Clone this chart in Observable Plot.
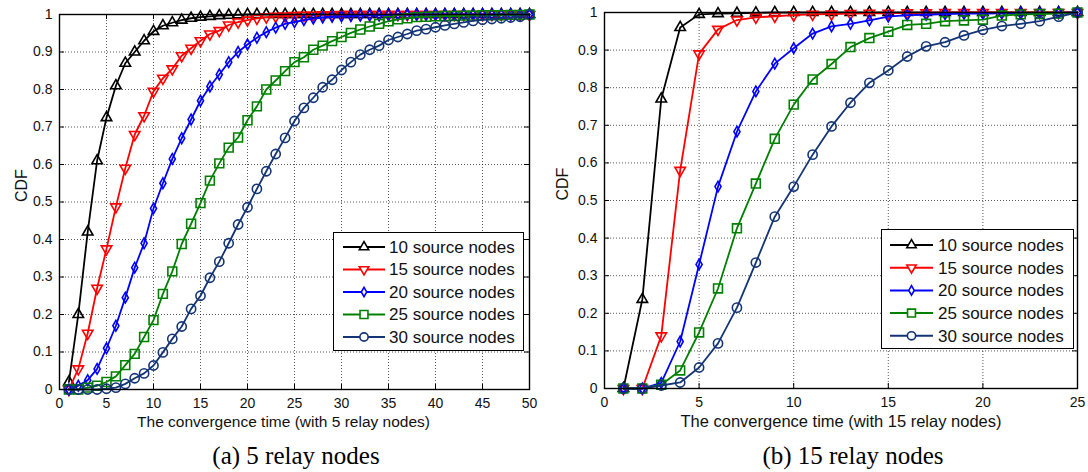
<!DOCTYPE html>
<html>
<head>
<meta charset="utf-8">
<script src="https://cdn.jsdelivr.net/npm/d3@7"></script>
<script src="https://cdn.jsdelivr.net/npm/@observablehq/plot@0.6"></script>
<style>
  body { margin: 0; background: #fff; }
  #wrap { position: relative; width: 1088px; height: 472px; overflow: hidden; font-family: "Liberation Sans", Arial, sans-serif; }
  .panel { position: absolute; top: 0; }
  .caption { position: absolute; font-family: "Liberation Serif", "Times New Roman", serif; font-size: 25px; color: #000; white-space: nowrap; transform: translateX(-50%); }
  .legend { position: absolute; background: #fff; border: 1.5px solid #000; box-sizing: border-box; }
</style>
</head>
<body>
<div id="wrap">
  <div id="pa" class="panel" style="left:0px"></div>
  <div id="pb" class="panel" style="left:544px"></div>
  <div class="caption" style="left:296px; top:442px">(a) 5 relay nodes</div>
  <div class="caption" style="left:853px; top:442px">(b) 15 relay nodes</div>
  <div id="lega" class="legend" style="left:333px; top:232px; width:191px; height:119px"></div>
  <div id="legb" class="legend" style="left:881px; top:229px; width:193px; height:120px"></div>
</div>
<script>
// ---------------- data ----------------
const seriesLabels = ["10 source nodes", "15 source nodes", "20 source nodes", "25 source nodes", "30 source nodes"];
const seriesColors = ["#000000", "#ff0000", "#0000ff", "#008000", "#143575"];

const xTicksA = [0, 5, 10, 15, 20, 25, 30, 35, 40, 45, 50];
const xTicksB = [0, 5, 10, 15, 20, 25];
const yTicks = [0, 0.1, 0.2, 0.3, 0.4, 0.5, 0.6, 0.7, 0.8, 0.9, 1];

// panel (a): 5 relay nodes
const timeA = [1,2,3,4,5,6,7,8,9,10,11,12,13,14,15,16,17,18,19,20,21,22,23,24,25,26,27,28,29,30,31,32,33,34,35,36,37,38,39,40,41,42,43,44,45,46,47,48,49,50];
const a10 = [0.02,0.20,0.42,0.61,0.725,0.81,0.87,0.90,0.93,0.955,0.97,0.978,0.985,0.99,0.993,0.995,0.997,0.998,0.999,1,1,1,1,1,1,1,1,1,1,1,1,1,1,1,1,1,1,1,1,1,1,1,1,1,1,1,1,1,1,1];
const a15 = [0.0,0.055,0.15,0.27,0.375,0.487,0.59,0.68,0.73,0.795,0.83,0.855,0.89,0.91,0.93,0.948,0.957,0.972,0.98,0.985,0.99,0.993,0.995,0.996,0.997,0.998,0.998,0.999,0.999,1,1,1,1,1,1,1,1,1,1,1,1,1,1,1,1,1,1,1,1,1];
const a20 = [0.0,0.01,0.025,0.055,0.11,0.17,0.245,0.325,0.39,0.483,0.55,0.615,0.67,0.72,0.77,0.808,0.84,0.873,0.90,0.92,0.938,0.953,0.965,0.975,0.98,0.985,0.989,0.992,0.994,0.995,0.996,0.997,0.998,0.998,0.999,1,1,1,1,1,1,1,1,1,1,1,1,1,1,1];
const a25 = [0,0,0.005,0.01,0.02,0.035,0.065,0.095,0.14,0.185,0.255,0.315,0.388,0.442,0.497,0.557,0.603,0.645,0.672,0.718,0.755,0.80,0.824,0.849,0.873,0.886,0.906,0.917,0.929,0.94,0.951,0.96,0.968,0.975,0.982,0.987,0.99,0.993,0.994,0.995,0.996,0.996,0.997,0.997,0.998,0.998,0.998,0.999,0.999,1];
const a30 = [0,0,0,0,0.002,0.005,0.015,0.03,0.043,0.064,0.099,0.135,0.168,0.215,0.25,0.298,0.341,0.39,0.44,0.486,0.535,0.582,0.628,0.671,0.716,0.751,0.778,0.806,0.826,0.852,0.873,0.893,0.906,0.917,0.932,0.94,0.948,0.957,0.961,0.966,0.971,0.975,0.979,0.983,0.986,0.988,0.99,0.992,0.994,1.0];

// panel (b): 15 relay nodes
const timeB = [1,2,3,4,5,6,7,8,9,10,11,12,13,14,15,16,17,18,19,20,21,22,23,24,25];
const b10 = [0,0.237,0.77,0.96,0.995,0.997,0.998,0.999,1,1,1,1,1,1,1,1,1,1,1,1,1,1,1,1,1];
const b15 = [0,0.0,0.14,0.58,0.89,0.955,0.98,0.987,0.99,0.993,0.995,0.996,0.997,0.998,0.998,0.999,0.999,1,1,1,1,1,1,1,1];
const b20 = [0,0,0.015,0.125,0.33,0.537,0.683,0.79,0.864,0.905,0.944,0.963,0.97,0.979,0.989,0.993,0.994,0.996,0.997,0.997,0.998,0.998,0.999,0.999,1];
const b25 = [0,0,0.01,0.048,0.149,0.266,0.426,0.545,0.664,0.755,0.822,0.863,0.908,0.932,0.949,0.967,0.97,0.977,0.979,0.981,0.992,0.995,0.996,0.997,1];
const b30 = [0,0,0.008,0.016,0.056,0.12,0.215,0.335,0.457,0.537,0.622,0.697,0.76,0.813,0.846,0.883,0.91,0.921,0.939,0.954,0.964,0.97,0.977,0.989,1];

// ---------------- symbols ----------------
const triDown = {
  draw(ctx, size) {
    const y = Math.sqrt(size / (Math.sqrt(3) * 3));
    ctx.moveTo(0, 2 * y);
    ctx.lineTo(-Math.sqrt(3) * y, -y);
    ctx.lineTo(Math.sqrt(3) * y, -y);
    ctx.closePath();
  }
};
const triUp = {
  draw(ctx, size) {
    const y = Math.sqrt(size / (Math.sqrt(3) * 3));
    ctx.moveTo(0, -2 * y);
    ctx.lineTo(-Math.sqrt(3) * y, y);
    ctx.lineTo(Math.sqrt(3) * y, y);
    ctx.closePath();
  }
};
const symbols = [triUp, triDown, d3.symbolDiamond, d3.symbolSquare, d3.symbolCircle];
const radii = [3.9, 3.9, 3.2, 5.0, 4.6];

function build(time, series, xTicks, opts) {
  const W = 544, H = 435;
  const plotW = W - opts.ml - opts.mr, plotH = H - opts.mt - opts.mb;
  const marks = [];
  // grid
  marks.push(Plot.ruleX(xTicks.slice(1, -1), {stroke: "#000", strokeOpacity: 0.65, strokeDasharray: "1,2", strokeWidth: 1}));
  marks.push(Plot.ruleY(yTicks.slice(1, -1), {stroke: "#000", strokeOpacity: 0.65, strokeDasharray: "1,2", strokeWidth: 1}));
  // inward ticks
  marks.push(Plot.ruleX(xTicks, {stroke: "#000", insetTop: plotH - 5}));
  marks.push(Plot.ruleX(xTicks, {stroke: "#000", insetBottom: plotH - 5}));
  marks.push(Plot.ruleY(yTicks, {stroke: "#000", insetRight: plotW - 5}));
  marks.push(Plot.ruleY(yTicks, {stroke: "#000", insetLeft: plotW - 5}));
  // series
  series.forEach((vals, i) => {
    const data = time.map((t, j) => ({t, v: vals[j]}));
    marks.push(Plot.line(data, {x: "t", y: "v", stroke: seriesColors[i], strokeWidth: 1.8}));
    marks.push(Plot.dot(data, {x: "t", y: "v", stroke: seriesColors[i], fill: "none", strokeWidth: 1.6, symbol: symbols[i], r: radii[i]}));
  });
  marks.push(Plot.frame({stroke: "#000", strokeWidth: 1.4}));
  // axes
  marks.push(Plot.axisX(xTicks, {tickSize: 0, tickPadding: 9, fontSize: 14, label: null}));
  marks.push(Plot.axisY(yTicks, {tickSize: 0, tickPadding: 7, fontSize: 14, label: null, tickFormat: d => String(+d.toFixed(1))}));
  marks.push(Plot.text([opts.xlabel], {frameAnchor: "bottom", dy: opts.xlabDy, dx: opts.xlabDx, fontSize: opts.xlabSize, text: d => d}));
  marks.push(Plot.text(["CDF"], {frameAnchor: "left", dx: opts.ylabDx, rotate: -90, fontSize: 16, text: d => d}));
  return Plot.plot({
    width: W, height: H,
    marginLeft: opts.ml, marginRight: opts.mr, marginTop: opts.mt, marginBottom: opts.mb,
    style: {fontFamily: "'Liberation Sans', Arial, sans-serif", fontSize: "14px", color: "#111", background: "#fff", overflow: "visible"},
    x: {domain: [0, xTicks[xTicks.length - 1]]},
    y: {domain: [0, 1]},
    marks
  });
}

document.getElementById("pa").appendChild(build(timeA, [a10, a15, a20, a25, a30], xTicksA,
  {ml: 59, mr: 15, mt: 14, mb: 46, xlabel: "The convergence time (with 5 relay nodes)", xlabDy: 37, xlabDx: -11, xlabSize: 15.5, ylabDx: -38}));
document.getElementById("pb").appendChild(build(timeB, [b10, b15, b20, b25, b30], xTicksB,
  {ml: 60, mr: 11, mt: 12, mb: 47, xlabel: "The convergence time (with 15 relay nodes)", xlabDy: 38, xlabDx: 0, xlabSize: 16.5, ylabDx: -42}));

// ---------------- legends ----------------
function legend(el, w, h, rowTop, rowGap, lineX0, lineX1, textX) {
  const svg = d3.select(el).append("svg").attr("width", w).attr("height", h).style("display", "block");
  seriesLabels.forEach((lab, i) => {
    const y = rowTop + i * rowGap;
    svg.append("line").attr("x1", lineX0).attr("x2", lineX1).attr("y1", y).attr("y2", y)
      .attr("stroke", seriesColors[i]).attr("stroke-width", 2);
    svg.append("path").attr("d", d3.symbol(symbols[i], radii[i] * radii[i] * Math.PI * 0.8)())
      .attr("transform", `translate(${(lineX0 + lineX1) / 2},${y})`)
      .attr("fill", "#fff").attr("stroke", seriesColors[i]).attr("stroke-width", 1.6);
    svg.append("text").attr("x", textX).attr("y", y).attr("dy", "0.35em")
      .attr("font-size", 17).attr("font-family", "'Liberation Sans', Arial, sans-serif").attr("fill", "#111").text(lab);
  });
}
legend(document.getElementById("lega"), 188, 116, 14, 22.5, 9, 51, 55);
legend(document.getElementById("legb"), 190, 117, 15, 22.7, 8, 51, 56);
</script>
</body>
</html>
